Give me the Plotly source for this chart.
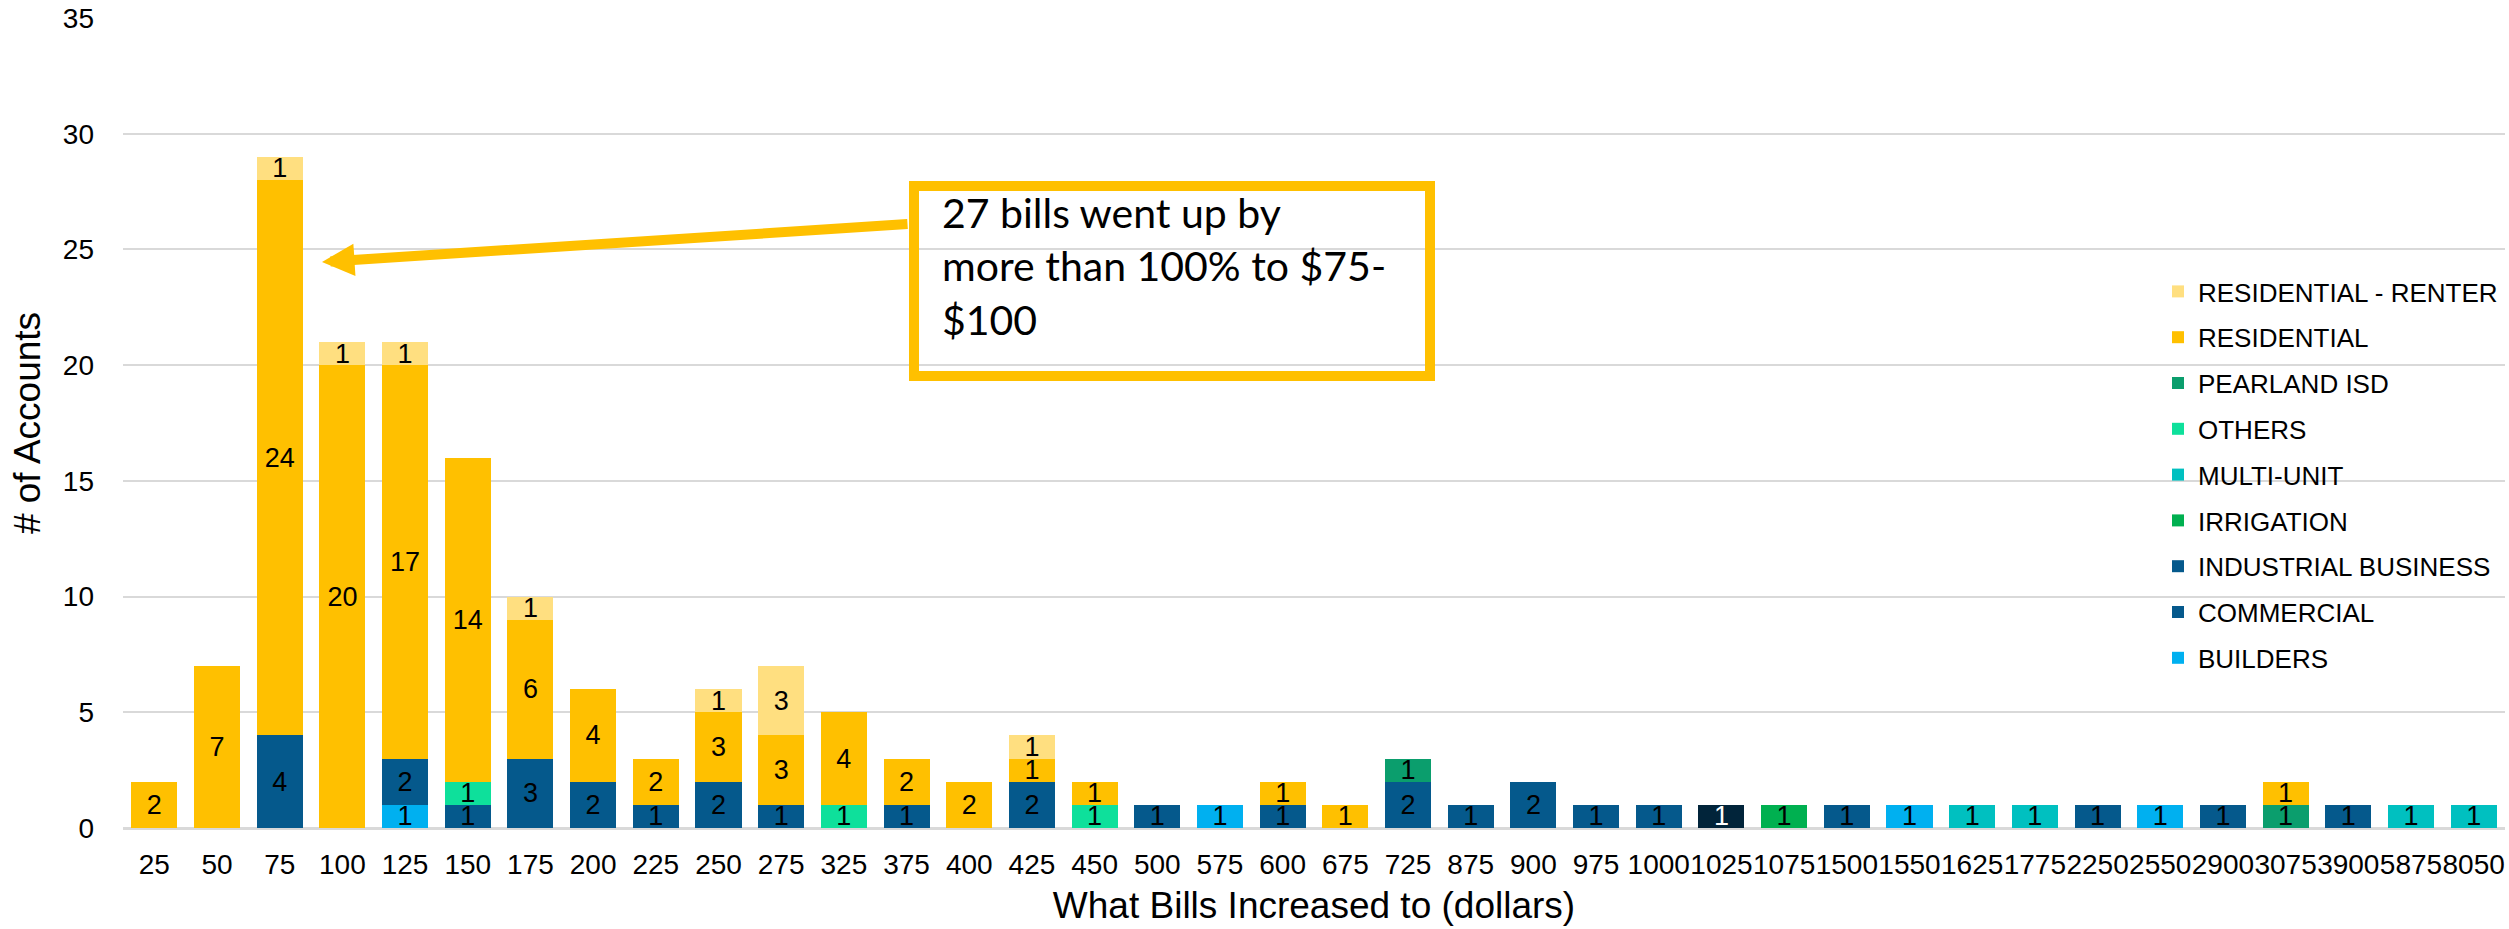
import plotly.graph_objects as go

categories = ["25", "50", "75", "100", "125", "150", "175", "200", "225", "250",
              "275", "325", "375", "400", "425", "450", "500", "575", "600", "675",
              "725", "875", "900", "975", "1000", "1025", "1075", "1500", "1550", "1625",
              "1775", "2250", "2550", "2900", "3075", "3900", "5875", "8050"]

N = None
builders = [N, N, N, N, 1, N, N, N, N, N, N, N, N, N, N, N, N, 1, N, N,
            N, N, N, N, N, N, N, N, 1, N, N, N, 1, N, N, N, N, N]
commercial = [N, N, 4, N, 2, 1, 3, 2, 1, 2, 1, N, 1, N, 2, N, 1, N, 1, N,
              2, 1, 2, 1, 1, N, N, 1, N, N, N, 1, N, 1, N, 1, N, N]
industrial = [N, N, N, N, N, N, N, N, N, N, N, N, N, N, N, N, N, N, N, N,
              N, N, N, N, N, 1, N, N, N, N, N, N, N, N, N, N, N, N]
irrigation = [N, N, N, N, N, N, N, N, N, N, N, N, N, N, N, N, N, N, N, N,
              N, N, N, N, N, N, 1, N, N, N, N, N, N, N, N, N, N, N]
multi_unit = [N, N, N, N, N, N, N, N, N, N, N, N, N, N, N, N, N, N, N, N,
              N, N, N, N, N, N, N, N, N, 1, 1, N, N, N, N, N, 1, 1]
others = [N, N, N, N, N, 1, N, N, N, N, N, 1, N, N, N, 1, N, N, N, N,
          N, N, N, N, N, N, N, N, N, N, N, N, N, N, N, N, N, N]
pearland = [N, N, N, N, N, N, N, N, N, N, N, N, N, N, N, N, N, N, N, N,
            1, N, N, N, N, N, N, N, N, N, N, N, N, N, 1, N, N, N]
residential = [2, 7, 24, 20, 17, 14, 6, 4, 2, 3, 3, 4, 2, 2, 1, 1, N, N, 1, 1,
               N, N, N, N, N, N, N, N, N, N, N, N, N, N, 1, N, N, N]
renter = [N, N, 1, 1, 1, N, 1, N, N, 1, 3, N, N, N, 1, N, N, N, N, N,
          N, N, N, N, N, N, N, N, N, N, N, N, N, N, N, N, N, N]

series_names = ["BUILDERS", "COMMERCIAL", "INDUSTRIAL BUSINESS", "IRRIGATION",
                "MULTI-UNIT", "OTHERS", "PEARLAND ISD", "RESIDENTIAL",
                "RESIDENTIAL - RENTER"]
series_values = [builders, commercial, industrial, irrigation, multi_unit,
                 others, pearland, residential, renter]
series_colors = ["#00B0F0", "#05598C", "#05598C", "#00B050", "#00C0C0",
                 "#0EE09B", "#0B9E6D", "#FFC000", "#FFDF80"]

annotation_text = "27 bills went up by<br>more than 100% to $75-<br>$100"

W, H = 2509, 929
ML, MR, MT, MB = 123, 4, 18, 101
PW, PH = W - ML - MR, H - MT - MB


def px(x):
    return (x - ML) / PW


def py(y):
    return (H - MB - y) / PH


BASE_FONT = "Arial, Liberation Sans, sans-serif"

fig = go.Figure()
for i, (name, vals, col) in enumerate(zip(series_names, series_values, series_colors)):
    colors = col
    tcolors = "#000000"
    if name == "INDUSTRIAL BUSINESS":
        colors = [col if v is None else "#01243A" for v in vals]
        colors[0] = col
        tcolors = ["#000000" if v is None else "#FFFFFF" for v in vals]
    fig.add_trace(go.Bar(
        name=name, x=categories, y=vals,
        marker=dict(color=colors, line=dict(width=0)),
        legendgroup=name, legendrank=100 - i,
        texttemplate="%{y}", textposition="inside", insidetextanchor="middle",
        textangle=0,
        textfont=dict(family=BASE_FONT, size=27, color=tcolors),
    ))

fig.update_layout(
    width=W, height=H,
    barmode="stack", bargap=0.265,
    margin=dict(l=ML, r=MR, t=MT, b=MB, pad=0, autoexpand=False),
    paper_bgcolor="white", plot_bgcolor="white",
    font=dict(family=BASE_FONT, color="#000000"),
    uniformtext=dict(minsize=27, mode="show"),
    showlegend=True,
    legend=dict(
        x=px(2158), y=py(268), xanchor="left", yanchor="top",
        bgcolor="rgba(0,0,0,0)", font=dict(size=26, family=BASE_FONT, color="#000000"),
        traceorder="grouped", tracegroupgap=9,
    ),
    xaxis=dict(
        type="category", tickmode="array", tickvals=categories, ticktext=categories,
        range=[-0.5, len(categories) - 0.5], tickangle=0, automargin=False,
        showgrid=False, showline=True, linecolor="#D9D9D9", linewidth=2,
        ticks="", tickfont=dict(size=28), ticklabelstandoff=10,
        title=dict(text="What Bills Increased to (dollars)", font=dict(size=37), standoff=14),
    ),
    yaxis=dict(
        range=[0, 35], dtick=5, tick0=0, automargin=False,
        showgrid=True, gridcolor="#D9D9D9", gridwidth=2,
        zeroline=True, zerolinecolor="#D9D9D9", zerolinewidth=2,
        ticks="", tickfont=dict(size=28), ticklabelstandoff=28,
        title=dict(text="# of Accounts", font=dict(size=37), standoff=10),
    ),
)

fig.add_shape(type="rect", xref="paper", yref="paper",
              x0=px(914), x1=px(1430), y0=py(376), y1=py(186),
              line=dict(color="#FFC000", width=10), fillcolor="rgba(0,0,0,0)",
              layer="above")

fig.add_annotation(xref="paper", yref="paper", x=px(940), y=py(186),
                   xanchor="left", yanchor="top", align="left",
                   text=annotation_text, showarrow=False,
                   font=dict(family="Lato, Carlito, Calibri, sans-serif", size=41, color="#000000"))

fig.add_annotation(xref="paper", yref="paper", x=px(322), y=py(262),
                   ax=909 - 322, ay=224 - 262, text=" ", showarrow=True,
                   arrowhead=2, arrowsize=0.65, arrowwidth=10, arrowcolor="#FFC000",
                   standoff=0, startstandoff=0, font=dict(size=1))

fig.write_html("out.html", config={"displayModeBar": False},
               post_script="document.body.style.margin='0';document.body.style.overflow='hidden';")
